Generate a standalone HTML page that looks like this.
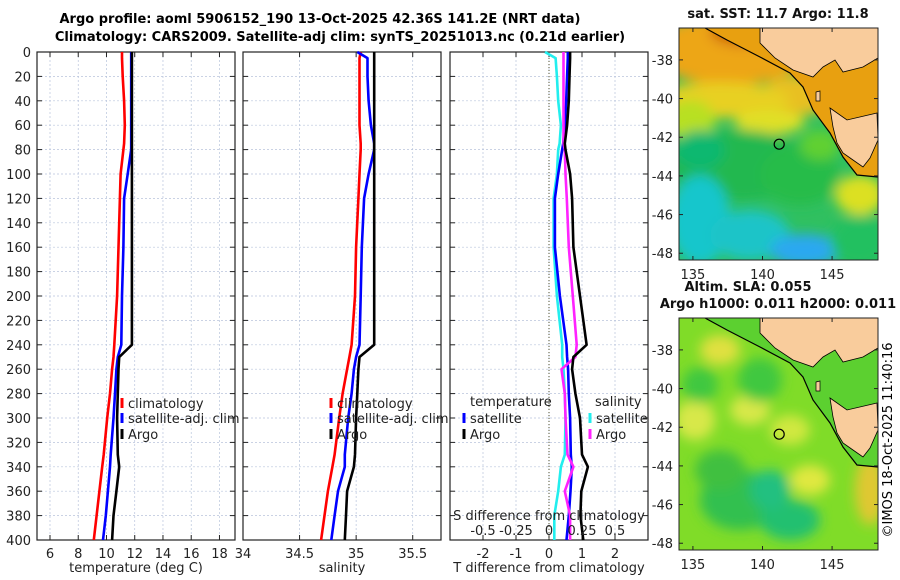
<!DOCTYPE html>
<html><head><meta charset="utf-8"><style>
html,body{margin:0;padding:0;background:#fff;}
svg{display:block;font-family:"DejaVu Sans","Liberation Sans",sans-serif;}
</style></head><body>
<svg id="chart" width="900" height="580" viewBox="0 0 900 580">
<defs>
<filter id="blur6" x="-20%" y="-20%" width="140%" height="140%"><feGaussianBlur stdDeviation="6"/></filter>
<clipPath id="clip1"><rect x="679" y="28" width="199" height="232"/></clipPath>
<clipPath id="clip2"><rect x="679" y="318" width="199" height="232"/></clipPath>
</defs>
<text x="320" y="23" font-size="13" font-weight="bold" text-anchor="middle">Argo profile: aoml 5906152_190 13-Oct-2025 42.36S 141.2E (NRT data)</text>
<text x="340" y="41" font-size="13" font-weight="bold" text-anchor="middle">Climatology: CARS2009. Satellite-adj clim: synTS_20251013.nc (0.21d earlier)</text>
<g id="panels"></g>
<g id="maps"></g>
<text transform="translate(892,440) rotate(-90)" font-size="13" text-anchor="middle">©IMOS 18-Oct-2025 11:40:16</text>
</svg>
<script>
// ---- data ----
const depths = [0,5,20,40,60,75,80,100,120,160,200,240,250,260,280,300,330,340,360,380,400];
const tempClim = [11.1,11.1,11.15,11.25,11.3,11.25,11.2,11.0,10.95,10.85,10.75,10.55,10.5,10.4,10.25,10.05,9.8,9.7,9.5,9.3,9.1];
const tempSat  = [11.75,11.75,11.75,11.75,11.75,11.75,11.75,11.5,11.25,11.2,11.1,11.05,10.8,10.7,10.6,10.5,10.3,10.25,10.1,9.95,9.75];
const tempArgo = [11.8,11.8,11.8,11.8,11.8,11.8,11.8,11.8,11.8,11.8,11.8,11.8,10.9,10.85,10.8,10.75,10.8,10.9,10.7,10.5,10.4];
const salClim = [35.04,35.03,35.03,35.03,35.03,35.04,35.04,35.03,35.02,35.0,34.99,34.96,34.94,34.92,34.88,34.85,34.81,34.79,34.75,34.72,34.69];
const salSat  = [35.01,35.1,35.1,35.11,35.13,35.16,35.16,35.11,35.07,35.05,35.04,35.03,35.0,34.98,34.96,34.93,34.9,34.9,34.84,34.81,34.78];
const salArgo = [35.16,35.16,35.16,35.16,35.16,35.16,35.16,35.16,35.16,35.16,35.16,35.16,35.03,35.02,35.01,35.0,34.99,34.98,34.92,34.91,34.9];
const dTSat  = [0.57,0.57,0.55,0.52,0.48,0.43,0.4,0.28,0.18,0.18,0.33,0.53,0.55,0.58,0.6,0.64,0.66,0.69,0.65,0.6,0.53];
const dTArgo = [0.64,0.64,0.62,0.6,0.55,0.48,0.5,0.64,0.7,0.74,0.94,1.14,0.74,0.7,0.8,0.94,1.0,1.18,0.98,0.95,1.04];
const dSSat  = [-0.03,0.05,0.06,0.07,0.09,0.08,0.07,0.06,0.035,0.035,0.06,0.1,0.1,0.11,0.12,0.125,0.12,0.09,0.07,0.04,0.04];
const dSArgo = [0.11,0.11,0.11,0.11,0.11,0.11,0.12,0.125,0.135,0.15,0.18,0.21,0.2,0.095,0.12,0.125,0.14,0.185,0.12,0.16,0.16];
const depthTicks = [0,20,40,60,80,100,120,140,160,180,200,220,240,260,280,300,320,340,360,380,400];
const tempTicks = [6,8,10,12,14,16,18];
const salTicks = [34,34.5,35,35.5];
const salTickLabels = ["34","34.5","35","35.5"];
const dTTicks = [-2,-1,0,1,2];
const dSTicks = [-0.5,-0.25,0,0.25,0.5];
const dSTickLabels = ["-0.5","-0.25","0","0.25","0.5"];
const lonTicks = [135,140,145];
const latTicks = [-38,-40,-42,-44,-46,-48];

const NS="http://www.w3.org/2000/svg";
function mk(tag,attrs,parent,text){const e=document.createElementNS(NS,tag);for(const k in attrs)e.setAttribute(k,attrs[k]);if(text!==undefined)e.textContent=text;parent.appendChild(e);return e;}
const Y0=52,Y1=540;
const yScale=d=>Y0+(d-0)/400*(Y1-Y0);
const panels=document.getElementById('panels');

function panel(name,x0,x1,xmin,xmax,ticks,labels,xlabel){
  const g=mk('g',{},panels);
  
  
  const xs=v=>x0+(v-xmin)/(xmax-xmin)*(x1-x0);
  depthTicks.forEach(d=>{const l=mk('line',{x1:x0,x2:x1,y1:yScale(d),y2:yScale(d),stroke:'#b8c4dc','stroke-width':0.7,'stroke-dasharray':'2,2'},g);
    
    
    mk('line',{x1:x0,x2:x0+5,y1:yScale(d),y2:yScale(d),stroke:'#222'},g);
    mk('line',{x1:x1-5,x2:x1,y1:yScale(d),y2:yScale(d),stroke:'#222'},g);});
  ticks.forEach((t,i)=>{const X=xs(t);
    const l=mk('line',{x1:X,x2:X,y1:Y0,y2:Y1,stroke:'#b8c4dc','stroke-width':0.7,'stroke-dasharray':'2,2'},g);
    
    
    mk('line',{x1:X,x2:X,y1:Y1,y2:Y1-5,stroke:'#222'},g);
    mk('line',{x1:X,x2:X,y1:Y0,y2:Y0+5,stroke:'#222'},g);
    const t2=mk('text',{x:X,y:Y1+18,'font-size':13,'text-anchor':'middle',fill:'#222'},g,labels[i]);
    
    });
  const r=mk('rect',{x:x0,y:Y0,width:x1-x0,height:Y1-Y0,fill:'none',stroke:'#222','stroke-width':1.2},g);
  
  
  const xl=mk('text',{x:(x0+x1)/2,y:572,'font-size':13,'text-anchor':'middle',fill:'#222'},g,xlabel);
  
  
  return {g,xs};
}
function line(p,vals,color,name){
  const pts=vals.map((v,i)=>p.xs(v).toFixed(1)+','+yScale(depths[i]).toFixed(1)).join(' ');
  const l=mk('polyline',{points:pts,fill:'none',stroke:color,'stroke-width':2.6,'stroke-linejoin':'round'},p.g);
  
  
}
function legend(g,x,y,color,label,name){
  mk('line',{x1:x,x2:x,y1:y-10,y2:y,stroke:color,'stroke-width':3},g);
  const t=mk('text',{x:x+6,y:y,'font-size':13,fill:'#222'},g,label);
  
  
}
const p1=panel('temperature-panel',37,235,5.08,19.1,tempTicks,tempTicks.map(String),'temperature (deg C)');
depthTicks.forEach(d=>{const t=mk('text',{x:31,y:yScale(d)+5,'font-size':13,'text-anchor':'end',fill:'#222'},p1.g,String(d));
  
  });
line(p1,tempClim,'#ff0000','temp-climatology-line');
line(p1,tempSat,'#0000ff','temp-satellite-line');
line(p1,tempArgo,'#000000','temp-argo-line');
legend(p1.g,122,408,'#ff0000','climatology','legend-climatology');
legend(p1.g,122,423,'#0000ff','satellite-adj. clim','legend-satellite-adj');
legend(p1.g,122,439,'#000000','Argo','legend-argo');
const p2=panel('salinity-panel',243,441,34,35.75,salTicks,salTickLabels,'salinity');
line(p2,salClim,'#ff0000','sal-climatology-line');
line(p2,salSat,'#0000ff','sal-satellite-line');
line(p2,salArgo,'#000000','sal-argo-line');
legend(p2.g,331,408,'#ff0000','climatology','legend-climatology-2');
legend(p2.g,331,423,'#0000ff','satellite-adj. clim','legend-satellite-adj-2');
legend(p2.g,331,439,'#000000','Argo','legend-argo-2');
const p3=panel('difference-panel',450,648,-3,3,dTTicks,dTTicks.map(String),'T difference from climatology');
mk('line',{x1:p3.xs(0),x2:p3.xs(0),y1:Y0,y2:Y1,stroke:'#555533','stroke-width':1,'stroke-dasharray':'1,2'},p3.g);
const sx=v=>p3.xs(v*4);
const p3s={g:p3.g,xs:sx};
line(p3s,dSSat,'#22eeee','sal-diff-satellite-line');
line(p3,dTSat,'#0000ff','temp-diff-satellite-line');
line(p3s,dSArgo,'#ff22ff','sal-diff-argo-line');
line(p3,dTArgo,'#000000','temp-diff-argo-line');
const tl1=mk('text',{x:470,y:406,'font-size':13,fill:'#222'},p3.g,'temperature');


const tl2=mk('text',{x:595,y:406,'font-size':13,fill:'#222'},p3.g,'salinity');


legend(p3.g,464,423,'#0000ff','satellite','legend-temp-satellite');
legend(p3.g,464,439,'#000000','Argo','legend-temp-argo');
legend(p3.g,590,423,'#22eeee','satellite','legend-sal-satellite');
legend(p3.g,590,439,'#ff22ff','Argo','legend-sal-argo');
const st=mk('text',{x:549,y:520,'font-size':13,'text-anchor':'middle',fill:'#222'},p3.g,'S difference from climatology');


dSTicks.forEach((t,i)=>{const e=mk('text',{x:sx(t),y:535,'font-size':13,'text-anchor':'middle',fill:'#222'},p3.g,dSTickLabels[i]);
  
  });

// ---- maps ----
const maps=document.getElementById('maps');
const LON0=134.0,LON1=148.3,LAT0=-36.35,LAT1=-48.35;
function drawMap(name,top,blobs,base,shelfColor,titleLines,titleX){
  const g=mk('g',{},maps);
  
  
  const lx=v=>679+(v-LON0)/(LON1-LON0)*199;
  const ly=v=>top+(v-LAT0)/(LAT1-LAT0)*232;
  const cg=mk('g',{'clip-path':'url(#clip'+(top<100?1:2)+')'},g);
  mk('rect',{x:679,y:top,width:199,height:232,fill:base},cg);
  const off=top-28;
  const bg=mk('g',{filter:'url(#blur6)'},cg);
  blobs.forEach(b=>mk('ellipse',{cx:b[0],cy:b[1]+off,rx:b[2],ry:b[3],fill:b[4]},bg));
  const P=a=>a.map(p=>p[0]+','+(p[1]+off)).join(' ');
  mk('polygon',{points:P([[705,28],[727,40],[760,57],[790,73],[803,87],[813,110],[830,133],[843,157],[857,175],[878,177],[878,28]]),fill:shelfColor},cg);
  const land=mk('polygon',{points:P([[760,28],[760,43],[775,58],[793,70],[813,77],[823,67],[835,60],[843,72],[863,67],[878,58],[878,28]]),fill:'#f9cc9c',stroke:'#000','stroke-width':0.8},cg);
  
  
  const tas=mk('polygon',{points:P([[830,108],[847,120],[877,113],[878,140],[870,158],[863,167],[853,160],[843,153],[837,143],[833,127]]),fill:'#f9cc9c',stroke:'#000','stroke-width':0.8},cg);
  
  
  mk('polygon',{points:P([[816,92],[820,91],[820,101],[816,101]]),fill:'#f9cc9c',stroke:'#000','stroke-width':0.7},cg);
  mk('polyline',{points:P([[705,28],[727,40],[760,57],[790,73],[803,87],[813,110],[830,133],[843,157],[857,175],[878,177]]),fill:'none',stroke:'#000','stroke-width':1.2},cg);
  const c=mk('circle',{cx:lx(141.2),cy:ly(-42.36),r:5,fill:'none',stroke:'#000','stroke-width':1.2},g);
  
  
  mk('rect',{x:679,y:top,width:199,height:232,fill:'none',stroke:'#222','stroke-width':1},g);
  lonTicks.forEach(v=>{mk('line',{x1:lx(v),x2:lx(v),y1:top+232,y2:top+228,stroke:'#222'},g);mk('line',{x1:lx(v),x2:lx(v),y1:top,y2:top+4,stroke:'#222'},g);
    const t=mk('text',{x:lx(v),y:top+251,'font-size':13,'text-anchor':'middle',fill:'#222'},g,String(v));
    
    });
  latTicks.forEach(v=>{mk('line',{x1:679,x2:683,y1:ly(v),y2:ly(v),stroke:'#222'},g);mk('line',{x1:874,x2:878,y1:ly(v),y2:ly(v),stroke:'#222'},g);
    const t=mk('text',{x:673,y:ly(v)+5,'font-size':13,'text-anchor':'end',fill:'#222'},g,String(v));
    
    });
  titleLines.forEach((s,i)=>{const t=mk('text',{x:titleX[i],y:top-10-(titleLines.length-1-i)*17,'font-size':13,'font-weight':'bold','text-anchor':'middle',fill:'#111'},g,s);
    
    });
}
drawMap('sst-map',28,[
 [730,50,80,35,'#eda615'],[745,32,35,14,'#d06a08'],[800,95,40,20,'#e8c020'],
 [720,100,70,18,'#e8d020'],[690,120,25,20,'#b8e020'],[770,122,35,12,'#e0e028'],
 [740,165,70,35,'#20b850'],[700,150,25,20,'#10b870'],[800,175,40,30,'#28bc48'],
 [700,220,30,45,'#12c6cc'],[750,235,40,25,'#1cc4c8'],[805,250,35,16,'#2aa8f0'],
 [860,195,25,20,'#dce020'],[860,240,30,25,'#20c060'],[820,145,20,15,'#60d030']
],'#30c060','#e8a010',['sat. SST: 11.7 Argo: 11.8'],[778]);
drawMap('sla-map',318,[
 [720,60,20,15,'#e0e040'],[695,130,20,20,'#d8e848'],[750,120,20,15,'#d8e848'],[790,140,20,15,'#d0e840'],
 [760,90,22,22,'#40c840'],[700,95,18,18,'#40c840'],[740,210,40,30,'#30c050'],[790,230,30,20,'#20c070'],
 [770,200,20,20,'#20c080'],[870,200,15,35,'#e0c830'],[810,190,20,15,'#e0e840'],[720,180,25,20,'#40c040']
],'#80dc28','#5cd030',['Altim. SLA: 0.055','Argo h1000: 0.011 h2000: 0.011'],[748,778]);
</script>
</body></html>
